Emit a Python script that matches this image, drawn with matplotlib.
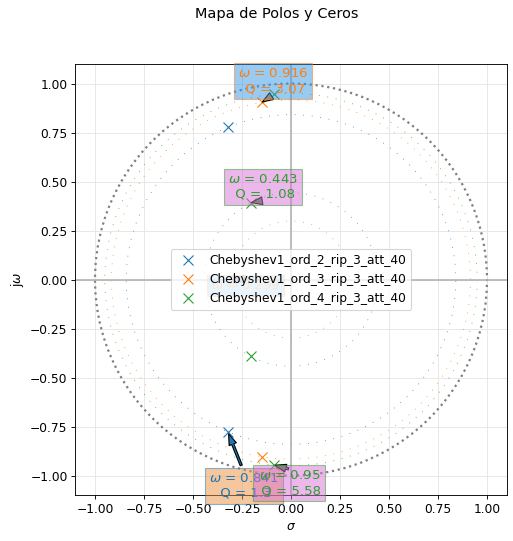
import numpy as np
import matplotlib
matplotlib.use("Agg")
import matplotlib.pyplot as plt
from matplotlib import patches

plt.rcParams["font.size"] = 11

# ---- data -------------------------------------------------------------
filter_names = ["Chebyshev1_ord_2_rip_3_att_40",
                "Chebyshev1_ord_3_rip_3_att_40",
                "Chebyshev1_ord_4_rip_3_att_40"]

poles_re_ord2 = [-0.3224, -0.3224]
poles_im_ord2 = [0.7772, -0.7772]
poles_re_ord3 = [-0.1493, -0.1493, -0.2986]
poles_im_ord3 = [0.9038, -0.9038, 0.0]
poles_re_ord4 = [-0.0852, -0.0852, -0.2056, -0.2056]
poles_im_ord4 = [0.9465, -0.9465, 0.3921, -0.3921]

# annotated singularities: (index into pole list), natural freq, Q
annot_idx_ord2 = [1]
annot_w0_ord2 = [0.841]
annot_q_ord2 = [1.3]
annot_idx_ord3 = [2, 0]
annot_w0_ord3 = [0.299, 0.916]
annot_q_ord3 = [None, 3.07]
annot_idx_ord4 = [2, 1]
annot_w0_ord4 = [0.443, 0.95]
annot_q_ord4 = [1.08, 5.58]

# ---- styles -------------------------------------------------------------
series_colors = ["#1f77b4", "#ff7f0e", "#2ca02c"]
box_colors = [["#eb9141"], ["#3296e6", "#3296e6"], ["#da70d6", "#da70d6"]]
text_offsets = [[(16, -54)], [(13, -6), (11, 21)], [(12, 16), (15, -18)]]

fig = plt.figure(figsize=(513 / 80, 541 / 80), dpi=80)
ax = fig.add_axes([0.147, 0.0848, 0.8405, 0.797])

unit_circle = patches.Circle((0, 0), radius=1, fill=False, color="gray",
                             ls="dotted", lw=2)
ax.add_patch(unit_circle)
ax.axvline(0, color="0.7", lw=1.5)
ax.axhline(0, color="0.7", lw=1.5)

all_re = [poles_re_ord2, poles_re_ord3, poles_re_ord4]
all_im = [poles_im_ord2, poles_im_ord3, poles_im_ord4]
all_idx = [annot_idx_ord2, annot_idx_ord3, annot_idx_ord4]
all_w0 = [annot_w0_ord2, annot_w0_ord3, annot_w0_ord4]
all_q = [annot_q_ord2, annot_q_ord3, annot_q_ord4]

for fi, name in enumerate(filter_names):
    col = series_colors[fi]
    pre = np.array(all_re[fi])
    pim = np.array(all_im[fi])
    ax.plot(pre, pim, "x", markersize=9, color=col, label=name)
    for ai, idx in enumerate(all_idx[fi]):
        w0 = all_w0[fi][ai]
        q = all_q[fi][ai]
        circ = patches.Circle((0, 0), radius=w0, color=col, fill=False,
                              ls=(0, (1, 10)), lw=0.7)
        ax.add_patch(circ)
        if q is None:
            txt = "$\\omega$ = {:3.3g}".format(w0)
        else:
            txt = "$\\omega$ = {:3.3g}\n Q = {:3.3g}".format(w0, q)
        ax.annotate(txt, xy=(pre[idx], pim[idx]), xycoords="data",
                    xytext=text_offsets[fi][ai], textcoords="offset pixels",
                    ha="center", va="center", color=col, fontsize=12,
                    bbox=dict(boxstyle="square", fc=box_colors[fi][ai],
                              ec=col, alpha=0.5),
                    arrowprops=dict(facecolor=col, shrink=0.05, width=2,
                                    headwidth=7, headlength=10))

ax.set_xlim(-1.1, 1.1)
ax.set_ylim(-1.1, 1.1)
ax.set_xticks(np.arange(-1, 1.01, 0.25))
ax.set_yticks(np.arange(-1, 1.01, 0.25))
ax.grid(True, color="#e6e6e6", lw=0.8)
ax.set_axisbelow(True)
ax.set_xlabel("$\\sigma$")
ax.set_ylabel("j$\\omega$")
ax.legend(loc="center")
fig.suptitle("Mapa de Polos y Ceros", x=0.54, y=0.974, va="center", fontsize=13)

fig.savefig("out.png", dpi=80)
